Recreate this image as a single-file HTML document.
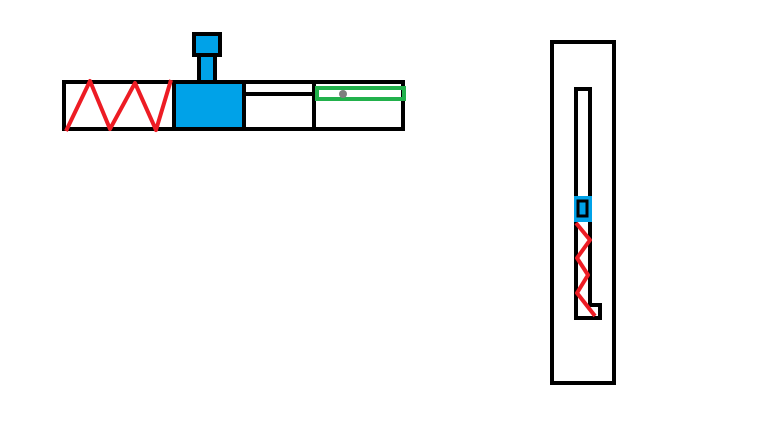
<!DOCTYPE html>
<html><head><meta charset="utf-8"><style>html,body{margin:0;padding:0;background:#fff;width:768px;height:432px;overflow:hidden}</style></head>
<body>
<svg width="768" height="432" viewBox="0 0 768 432" xmlns="http://www.w3.org/2000/svg">
<rect width="768" height="432" fill="#fff"/>
<!-- left assembly -->
<rect x="64" y="82" width="339" height="47" fill="none" stroke="#000" stroke-width="4"/>
<rect x="174" y="82" width="70" height="47" fill="#00a2e8" stroke="#000" stroke-width="4"/>
<line x1="314" y1="82" x2="314" y2="129" stroke="#000" stroke-width="4"/>
<line x1="244" y1="94" x2="314" y2="94" stroke="#000" stroke-width="4"/>
<rect x="317" y="88" width="87" height="11" fill="none" stroke="#22b14c" stroke-width="4"/>
<circle cx="343" cy="94" r="4" fill="#7f7f7f"/>
<rect x="199" y="55" width="16" height="27" fill="#00a2e8" stroke="#000" stroke-width="4"/>
<rect x="194" y="34" width="26" height="21" fill="#00a2e8" stroke="#000" stroke-width="4"/>
<polyline points="66,131 90,81 110,129 135,83 156,130 171,80" fill="none" stroke="#ed1c24" stroke-width="4" stroke-linejoin="round"/>
<!-- right assembly -->
<rect x="552" y="42" width="62" height="341" fill="none" stroke="#000" stroke-width="4"/>
<polyline points="576,307 576,89 590,89 590,305 600,305 600,318 576,318 576,307" fill="none" stroke="#000" stroke-width="4"/>
<rect x="574" y="196" width="18" height="26" fill="#00a2e8"/>
<rect x="578" y="201" width="9" height="15" fill="none" stroke="#000" stroke-width="3"/>
<polyline points="576,223 590,240 577,258 588,275 577,293 595,316" fill="none" stroke="#ed1c24" stroke-width="4" stroke-linejoin="round"/>
</svg>
</body></html>
